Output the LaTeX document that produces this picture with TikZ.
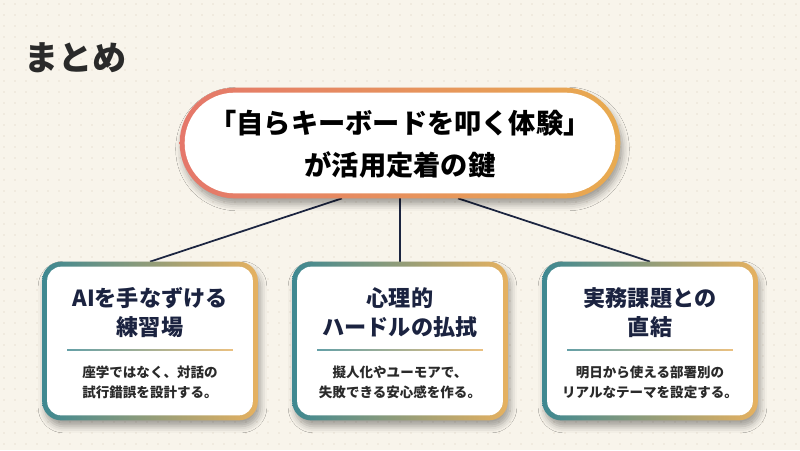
\documentclass[tikz,border=0pt]{standalone}
\usepackage{fontspec}
\setmainfont{Noto Sans CJK JP}
\usetikzlibrary{shadows.blur}
\definecolor{bgcol}{HTML}{F8F4EB}
\definecolor{dotcol}{HTML}{E8E1D3}
\definecolor{salmon}{HTML}{E5776A}
\definecolor{gold}{HTML}{E8AB50}
\definecolor{teal}{HTML}{3E8891}
\definecolor{golds}{HTML}{E6B160}
\definecolor{navy}{HTML}{1B2340}
\definecolor{linecol}{HTML}{1C2541}
\definecolor{bodycol}{HTML}{2A2A2A}
\definecolor{titlecol}{HTML}{2A2A2A}
\tikzset{
  anchorbox/.style={inner sep=0pt, minimum width=4.3cm, minimum height=3.16cm},
  pillbox/.style={inner sep=0pt, minimum width=8.8cm, minimum height=2.2cm},
  conn/.style={draw=linecol, line width=1pt},
  softshadow/.style={blur shadow={shadow xshift=0.05cm, shadow yshift=-0.12cm, shadow blur radius=0.13cm, shadow opacity=35}},
  boxtitle/.style={font=\fontsize{12.6}{16.4}\selectfont\bfseries, text=navy, align=center, inner sep=0pt},
  boxbody/.style={font=\fontsize{7.7}{11.3}\selectfont\bfseries, text=bodycol, align=center, inner sep=0pt},
}
\begin{document}
\begin{tikzpicture}[x=0.02cm, y=-0.02cm]
\useasboundingbox (0,0) rectangle (800,450);
\fill[bgcol] (0,0) rectangle (800,450);
\foreach \i in {0,...,72} {
  \foreach \j in {0,...,40} {
    \fill[dotcol] (\i*11+4, \j*11+4) circle (0.016cm);
  }
}
% title
\node[anchor=west, inner sep=0pt, font=\fontsize{19.4}{22}\selectfont\bfseries, text=titlecol] (title) at (24,58) {まとめ};
% layout nodes
\node[pillbox] (main) at (400,143) {};
\node[anchorbox] (b1) at (150,341) {};
\node[anchorbox] (b2) at (400,341) {};
\node[anchorbox] (b3) at (650,341) {};
% connectors
\draw[conn] ([xshift=-1.16cm]main.south) -- (b1.north);
\draw[conn] (main.south) -- (b2.north);
\draw[conn] ([xshift=1.16cm]main.south) -- (b3.north);
% main pill
\path[softshadow, left color=salmon, right color=gold, rounded corners=1.1cm] (main.south west) rectangle (main.north east);
\fill[white, rounded corners=1.0cm] ([shift={(0.1cm,0.1cm)}]main.south west) rectangle ([shift={(-0.1cm,-0.1cm)}]main.north east);
\node[font=\fontsize{15.5}{23.8}\selectfont\bfseries, text=black, align=center, inner sep=0pt] (maintext) at (400,144) {「自らキーボードを叩く体験」\\が活用定着の鍵};
% boxes
\foreach \b in {b1,b2,b3} {
  \path[softshadow, left color=teal, right color=golds, rounded corners=0.38cm] (\b.south west) rectangle (\b.north east);
  \fill[white, rounded corners=0.28cm] ([shift={(0.1cm,0.1cm)}]\b.south west) rectangle ([shift={(-0.1cm,-0.1cm)}]\b.north east);
  \shade[left color=teal!80!white, right color=golds!80!white] ([shift={(-1.66cm,0.015cm)}]\b.center |- 0,350) rectangle ([shift={(1.66cm,-0.015cm)}]\b.center |- 0,350);
}
\node[boxtitle] (t1) at (150,312.5) {AIを手なずける\\練習場};
\node[boxbody] (d1) at (150,382) {座学ではなく、対話の\\試行錯誤を設計する。};
\node[boxtitle] (t2) at (400,312.5) {心理的\\ハードルの払拭};
\node[boxbody] (d2) at (400,382) {擬人化やユーモアで、\\失敗できる安心感を作る。};
\node[boxtitle] (t3) at (650,312.5) {実務課題との\\直結};
\node[boxbody] (d3) at (650,382) {明日から使える部署別の\\リアルなテーマを設定する。};
\end{tikzpicture}
\end{document}
